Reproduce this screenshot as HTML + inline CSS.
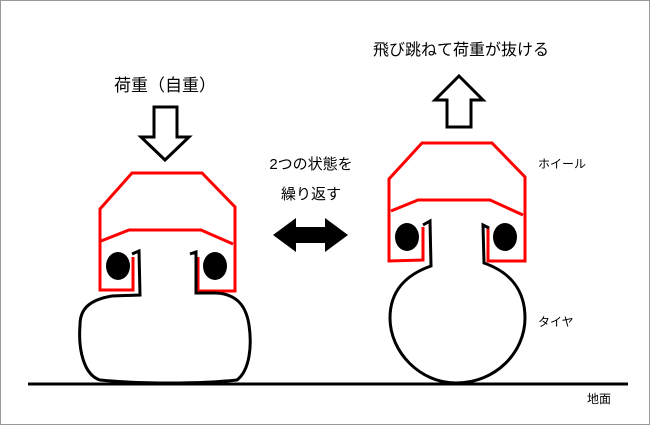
<!DOCTYPE html>
<html><head><meta charset="utf-8"><style>
body{margin:0;width:650px;height:425px;overflow:hidden;background:#fff}
svg{display:block}
text{font-family:"Liberation Sans","Noto Sans CJK JP",sans-serif;fill:#000}
</style></head><body>
<svg width="650" height="425" viewBox="0 0 650 425">
<rect x="0.5" y="0.5" width="649" height="424" fill="#fff" stroke="#999" stroke-width="1"/>
<line x1="28" y1="384" x2="628" y2="384" stroke="#000" stroke-width="3"/>
<g fill="none" stroke="#f00" stroke-width="3">
<path d="M133,257 L133,290 L100,290 L100,209 L132,173 L202,173 L235,207 L235,291 L198,291 L198,257"/>
<path d="M101,241 L129,230 L201,230 L233,244"/>
</g>
<ellipse cx="118" cy="266" rx="12" ry="14" fill="#000"/>
<ellipse cx="215" cy="266" rx="12" ry="14" fill="#000"/>
<path d="M132,254 L139,251 L140,295 L112,296 C88,300 80,310 80,325 C78,350 84,375 100,380 C140,384 200,384 237,380 C250,370 252,345 249,325 C246,305 236,294 216,293 L196,293 L196,252 L190,254" fill="none" stroke="#000" stroke-width="3"/>
<g fill="none" stroke="#f00" stroke-width="3">
<path d="M423,227 L423,260 L389,261 L389,179 L422,143 L492,143 L525,177 L525,261 L488,261 L488,227"/>
<path d="M391,211 L418,200 L490,200 L523,215"/>
</g>
<ellipse cx="407" cy="237" rx="12" ry="14" fill="#000"/>
<ellipse cx="505" cy="237" rx="12" ry="14" fill="#000"/>
<path d="M423,225 L430,221 L431,266 C405,275 390,292 390,318 C390,352 420,383 456,383 C496,383 525,352 525,318 C525,290 510,272 484,263 L483,225 L489,228" fill="none" stroke="#000" stroke-width="3"/>
<path d="M154,107 L177,107 L177,137 L189,137 L165,160 L141,137 L154,137 Z" fill="#fff" stroke="#000" stroke-width="3"/>
<path d="M459,76 L483,100 L471,100 L471,127 L447,127 L447,100 L435,100 Z" fill="#fff" stroke="#000" stroke-width="3"/>
<path d="M273,235 L296,218 L296,227 L325,227 L325,218 L348,235 L325,252 L325,243 L296,243 L296,252 Z" fill="#000"/>
<text x="165" y="91" font-size="17" text-anchor="middle">荷重（自重）</text>
<text x="461" y="55" font-size="16" text-anchor="middle">飛び跳ねて荷重が抜ける</text>
<text x="311" y="169" font-size="15" text-anchor="middle">2つの状態を</text>
<text x="311" y="199" font-size="15" text-anchor="middle">繰り返す</text>
<text x="538" y="168" font-size="12">ホイール</text>
<text x="538" y="326" font-size="12">タイヤ</text>
<text x="587" y="403" font-size="12">地面</text>
</svg>
</body></html>
